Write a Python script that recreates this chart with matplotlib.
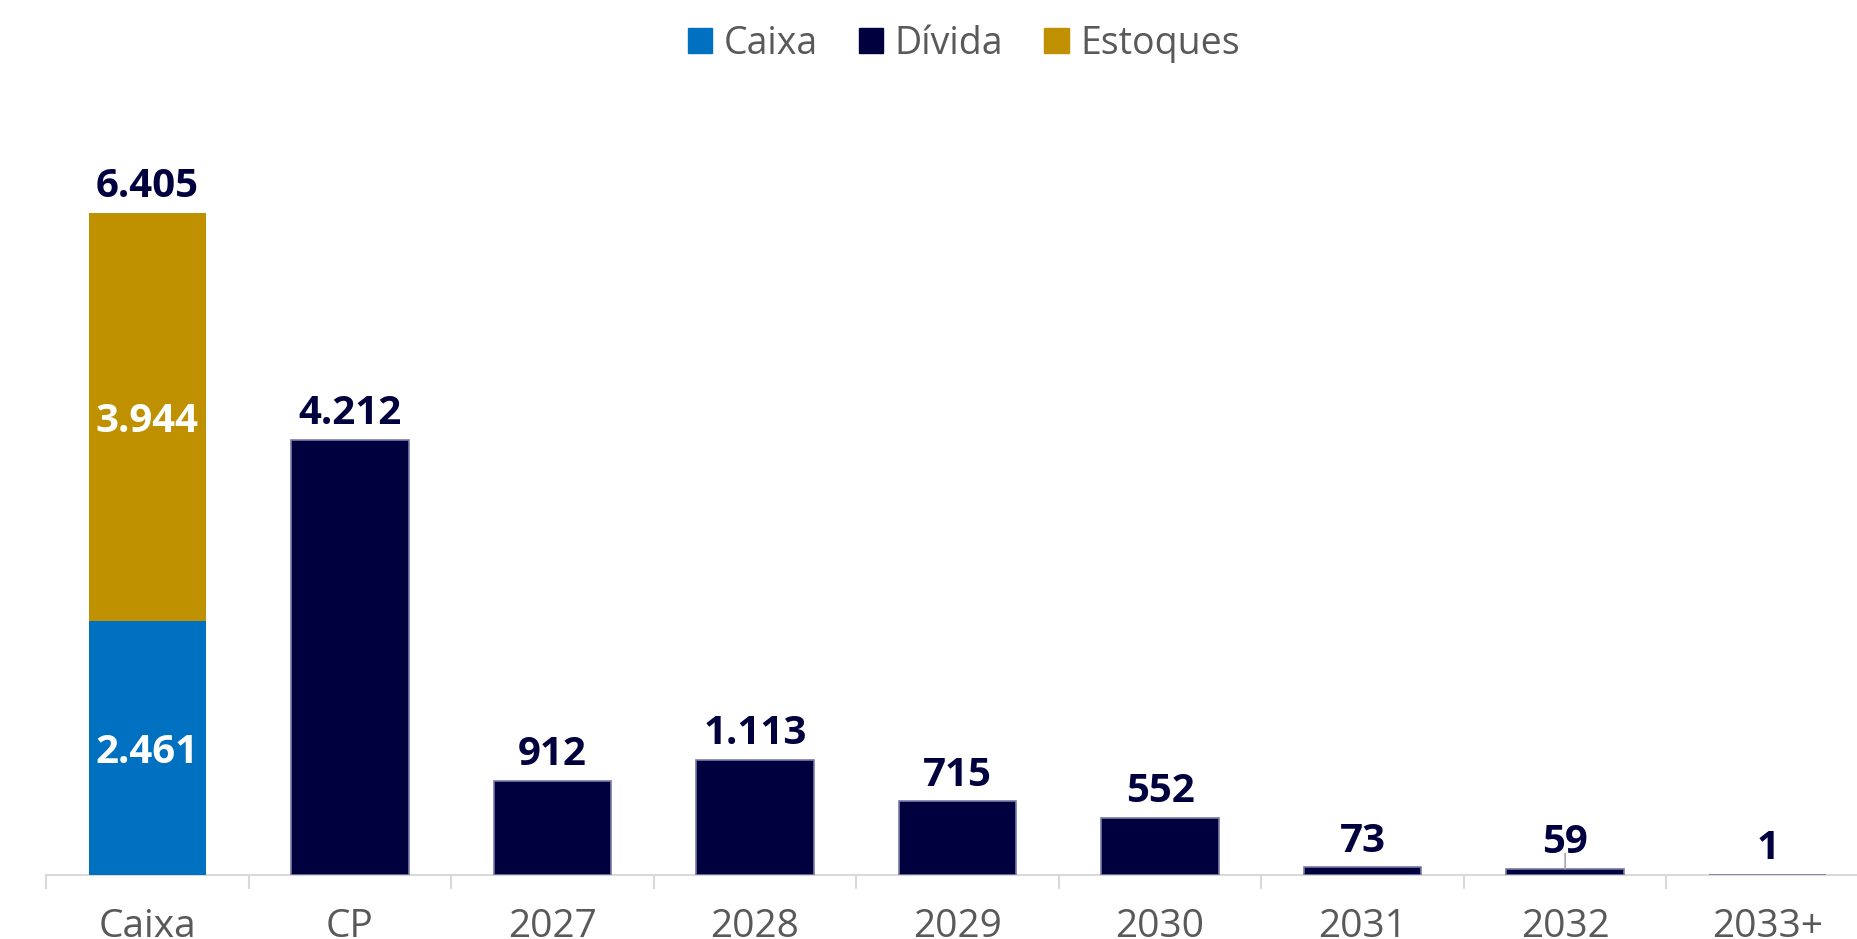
import numpy as np
import matplotlib.pyplot as plt
from matplotlib.patches import Patch

# categorias e valores (R$ mi)
categorias = ['Caixa', 'CP', '2027', '2028', '2029', '2030', '2031', '2032', '2033+']
caixa = 2461
estoques = 3944
divida = [4212, 912, 1113, 715, 552, 73, 59, 1]

cor_caixa = '#0070C0'
cor_divida = '#00003F'
cor_estoques = '#BF9000'
cor_texto = '#595959'

plt.rcParams['font.family'] = ['Open Sans', 'DejaVu Sans']


def fmt(v):
    return '{:,}'.format(v).replace(',', '.')


W, H = 1857, 939
fig = plt.figure(figsize=(W / 100, H / 100), dpi=100)
ax = fig.add_axes([46 / W, 64 / H, 1823 / W, 815 / H])

x = np.arange(len(categorias))
larg = 0.58

# primeira coluna: caixa + estoques empilhados
ax.bar(x[0], caixa, larg, color=cor_caixa, zorder=3)
ax.bar(x[0], estoques, larg, bottom=caixa, color=cor_estoques, zorder=3)
# demais colunas: cronograma da dívida
ax.bar(x[1:], divida, larg, color=cor_divida, edgecolor='#7a7aa8', linewidth=1.2, zorder=3)

ax.set_xlim(-0.5, len(categorias) - 0.5)
ax.set_ylim(0, 815 / (662 / (caixa + estoques)))

# rótulos internos da coluna empilhada
ax.text(x[0], caixa / 2, fmt(caixa), ha='center', va='center_baseline', color='white',
        fontsize=29, fontweight='bold', zorder=4)
ax.text(x[0], caixa + estoques / 2, fmt(estoques), ha='center', va='center_baseline',
        color='white', fontsize=29, fontweight='bold', zorder=4)

# rótulos de total acima das colunas
totais = [caixa + estoques] + divida
for xi, v in zip(x, totais):
    ax.annotate(fmt(v), (xi, v), xytext=(0, 22), textcoords='offset points',
                ha='center', va='center_baseline', color=cor_divida, fontsize=29,
                fontweight='bold')

# linha guia do rótulo de 2032
ax.annotate('', (x[7], divida[6]), xytext=(0, 11), textcoords='offset points',
            arrowprops=dict(arrowstyle='-', color='#a6a6a6', lw=1.2, shrinkA=0, shrinkB=0))

for s in ['top', 'left', 'right']:
    ax.spines[s].set_visible(False)
ax.spines['bottom'].set_color('#d9d9d9')
ax.spines['bottom'].set_linewidth(1.5)
ax.set_yticks([])
ax.set_xticks(x)
ax.set_xticklabels(categorias, fontsize=28, color=cor_texto)
ax.tick_params(axis='x', which='major', length=0, pad=24)
ax.set_xticks(np.arange(-0.5, len(categorias)), minor=True)
ax.tick_params(axis='x', which='minor', length=10, width=1.5, color='#d9d9d9')

handles = [Patch(color=cor_caixa, label='Caixa'),
           Patch(color=cor_divida, label='Dívida'),
           Patch(color=cor_estoques, label='Estoques')]
fig.legend(handles=handles, loc='center', bbox_to_anchor=(0.519, 0.953), ncol=3,
           frameon=False, fontsize=27, labelcolor=cor_texto, handlelength=0.65,
           handleheight=0.65, handletextpad=0.3, columnspacing=1.1)

plt.savefig('out.png', dpi=100)
